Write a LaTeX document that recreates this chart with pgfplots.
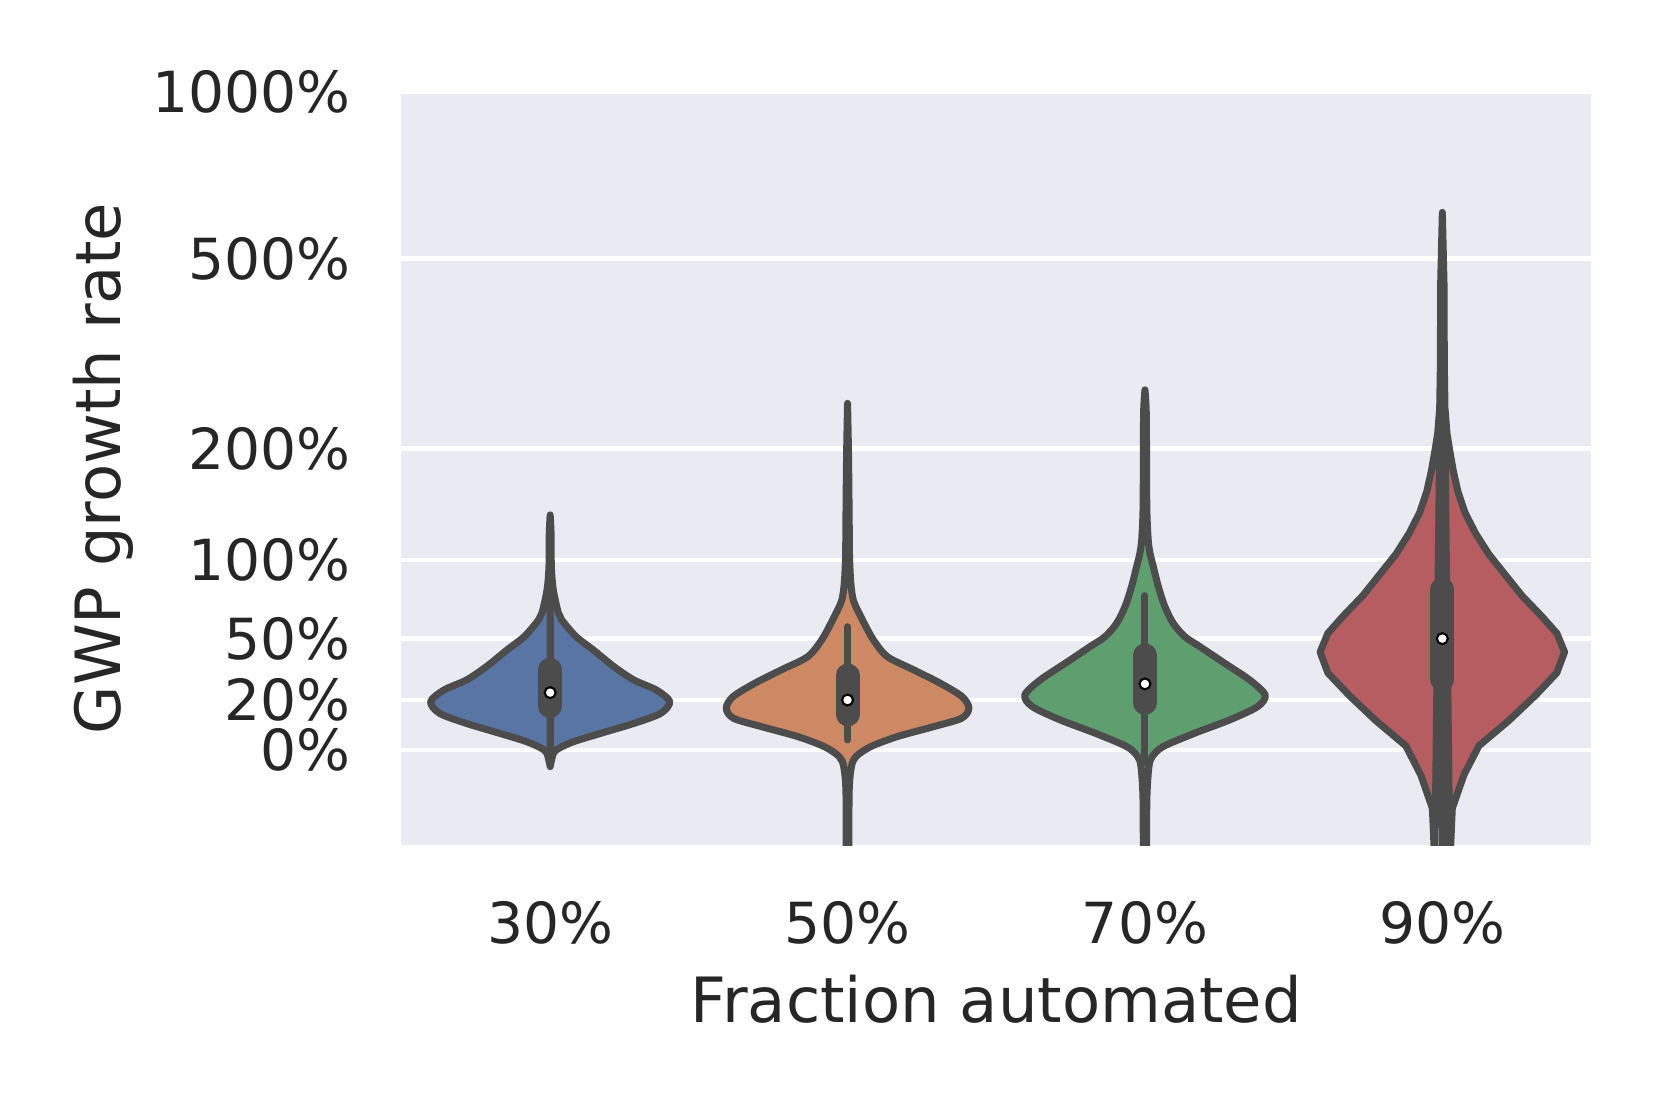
\documentclass[border=0pt]{standalone}
\usepackage{pgfplots}
\pgfplotsset{compat=1.18}
\usepgfplotslibrary{fillbetween}
\usepackage{pgfplotstable}
\usepackage{fontspec}
\setmainfont{DejaVu Sans}
\definecolor{bg}{HTML}{EAEAF2}
\definecolor{edge}{HTML}{4C4C4C}
\definecolor{txt}{HTML}{262626}
\definecolor{cA}{HTML}{5875A4}
\definecolor{cB}{HTML}{CC8963}
\definecolor{cC}{HTML}{5F9E6E}
\definecolor{cD}{HTML}{B55D60}

% t = log10(1 + growth), w = half width of the violin (category units)
\pgfplotstableread{
t w
-0.0264 0
-0.0053 0.011
0.0027 0.030
0.0132 0.080
0.0264 0.171
0.0423 0.284
0.0580 0.372
0.0765 0.402
0.0949 0.357
0.1108 0.281
0.1320 0.214
0.1583 0.145
0.1794 0.087
0.2058 0.039
0.2163 0.028
0.2375 0.017
0.2586 0.009
0.2903 0.004
0.3430 0.003
0.3720 0
}\vA
\pgfplotstableread{
t w
-0.25 0.0045
-0.153 0.0045
-0.0634 0.0056
-0.0265 0.013
-0.0107 0.028
0.0052 0.078
0.0210 0.167
0.0369 0.290
0.0500 0.383
0.0659 0.408
0.0844 0.385
0.1055 0.312
0.1266 0.223
0.1476 0.134
0.1741 0.087
0.2004 0.056
0.2215 0.0335
0.2375 0.019
0.2638 0.011
0.3061 0.0067
0.3587 0.0056
0.4644 0.0033
0.5487 0
}\vB
\pgfplotstableread{
t w
-0.25 0.0056
-0.153 0.0056
-0.0738 0.0067
-0.0264 0.0134
-0.0106 0.0245
0.0052 0.061
0.0264 0.167
0.0475 0.285
0.0686 0.379
0.0870 0.404
0.1108 0.352
0.1372 0.268
0.1637 0.184
0.1794 0.134
0.2006 0.095
0.2269 0.067
0.2586 0.045
0.2903 0.028
0.3114 0.017
0.3325 0.011
0.3747 0.0067
0.4275 0.0056
0.5330 0.0045
0.5700 0
}\vC
\pgfplotstableread{
t w
-0.25 0.027
-0.1518 0.028
-0.0924 0.0335
-0.0396 0.0725
0.0065 0.123
0.0461 0.223
0.0857 0.312
0.1220 0.385
0.1550 0.411
0.1846 0.385
0.2111 0.335
0.2440 0.268
0.2770 0.212
0.3100 0.156
0.3429 0.1116
0.3760 0.0759
0.4090 0.0524
0.4419 0.0368
0.4749 0.0245
0.5013 0.0156
0.5409 0.0089
0.6069 0.0067
0.7387 0.0056
0.8510 0
}\vD

\begin{document}
\begin{tikzpicture}
\begin{axis}[
  at={(0pt,0pt)}, anchor=south west,
  scale only axis, width=228.75pt, height=144.83pt,
  set layers, clip mode=individual,
  xmin=-0.5, xmax=3.5, ymin=-0.151, ymax=1.04139,
  axis background/.style={fill=bg},
  axis line style={draw=none},
  major tick length=0pt,
  ymajorgrids, xmajorgrids=false,
  major grid style={draw=white, line width=0.85pt},
  xtick={0,1,2,3}, xticklabels={30\%,50\%,70\%,90\%},
  ytick={0,0.07918,0.17609,0.30103,0.47712,0.77815,1.04139},
  yticklabels={0\%,20\%,50\%,100\%,200\%,500\%,1000\%},
  ticklabel style={font=\fontsize{10.9}{13}\selectfont, text=txt, inner sep=0pt},
  xticklabel style={anchor=base, yshift=-18.94pt},
  yticklabel style={anchor=east, xshift=-9.6pt},
  xlabel={Fraction automated}, ylabel={GWP growth rate},
  label style={font=\fontsize{12}{14}\selectfont, text=txt, inner sep=0pt},
  xlabel style={at={(axis description cs:0.5,0)}, anchor=base, yshift=-34.02pt},
  ylabel style={at={(axis description cs:0,0.5)}, anchor=base, yshift=54.12pt},
]
% violin bodies
\addplot[name path=A1, draw=none, smooth, tension=0.5] table[x expr=\thisrow{w}, y=t]{\vA};
\addplot[name path=A2, draw=none, smooth, tension=0.5] table[x expr=-\thisrow{w}, y=t]{\vA};
\addplot[fill=cA, draw=edge, line width=1.35pt, line join=round] fill between[of=A1 and A2];

\addplot[name path=B1, draw=none, smooth, tension=0.5] table[x expr=1+\thisrow{w}, y=t]{\vB};
\addplot[name path=B2, draw=none, smooth, tension=0.5] table[x expr=1-\thisrow{w}, y=t]{\vB};
\addplot[fill=cB, draw=edge, line width=1.35pt, line join=round] fill between[of=B1 and B2];

\addplot[name path=C1, draw=none, smooth, tension=0.5] table[x expr=2+\thisrow{w}, y=t]{\vC};
\addplot[name path=C2, draw=none, smooth, tension=0.5] table[x expr=2-\thisrow{w}, y=t]{\vC};
\addplot[fill=cC, draw=edge, line width=1.35pt, line join=round] fill between[of=C1 and C2];

\addplot[name path=D1, draw=none] table[x expr=3+\thisrow{w}, y=t]{\vD};
\addplot[name path=D2, draw=none] table[x expr=3-\thisrow{w}, y=t]{\vD};
\addplot[fill=cD, draw=edge, line width=1.35pt, line join=round] fill between[of=D1 and D2];

% whiskers
\addplot[edge, line width=1.35pt, line cap=round] coordinates {(0,0.0042) (0,0.2085)};
\addplot[edge, line width=1.35pt, line cap=round] coordinates {(1,0.0158) (1,0.195)};
\addplot[edge, line width=1.35pt, line cap=round] coordinates {(2,-0.02) (2,0.2443)};
\addplot[edge, line width=1.35pt, line cap=round] coordinates {(3,-0.25) (3,0.4037)};
% boxes (interquartile range)
\addplot[edge, line width=4.6pt, line cap=round] coordinates {(0,0.0694) (0,0.127)};
\addplot[edge, line width=4.6pt, line cap=round] coordinates {(1,0.0562) (1,0.1179)};
\addplot[edge, line width=4.6pt, line cap=round] coordinates {(2,0.0746) (2,0.1496)};
\addplot[edge, line width=4.6pt, line cap=round] coordinates {(3,0.1122) (3,0.2539)};
% medians
\addplot[only marks, mark=*, mark size=1.05pt, mark options={fill=white, draw=none}]
  coordinates {(0,0.0907) (1,0.079) (2,0.1045) (3,0.1761)};
\end{axis}
\pgfresetboundingbox
\path[use as bounding box] (-77.20pt,-50.31pt) rectangle (242.20pt,162.55pt);
\end{tikzpicture}
\end{document}
